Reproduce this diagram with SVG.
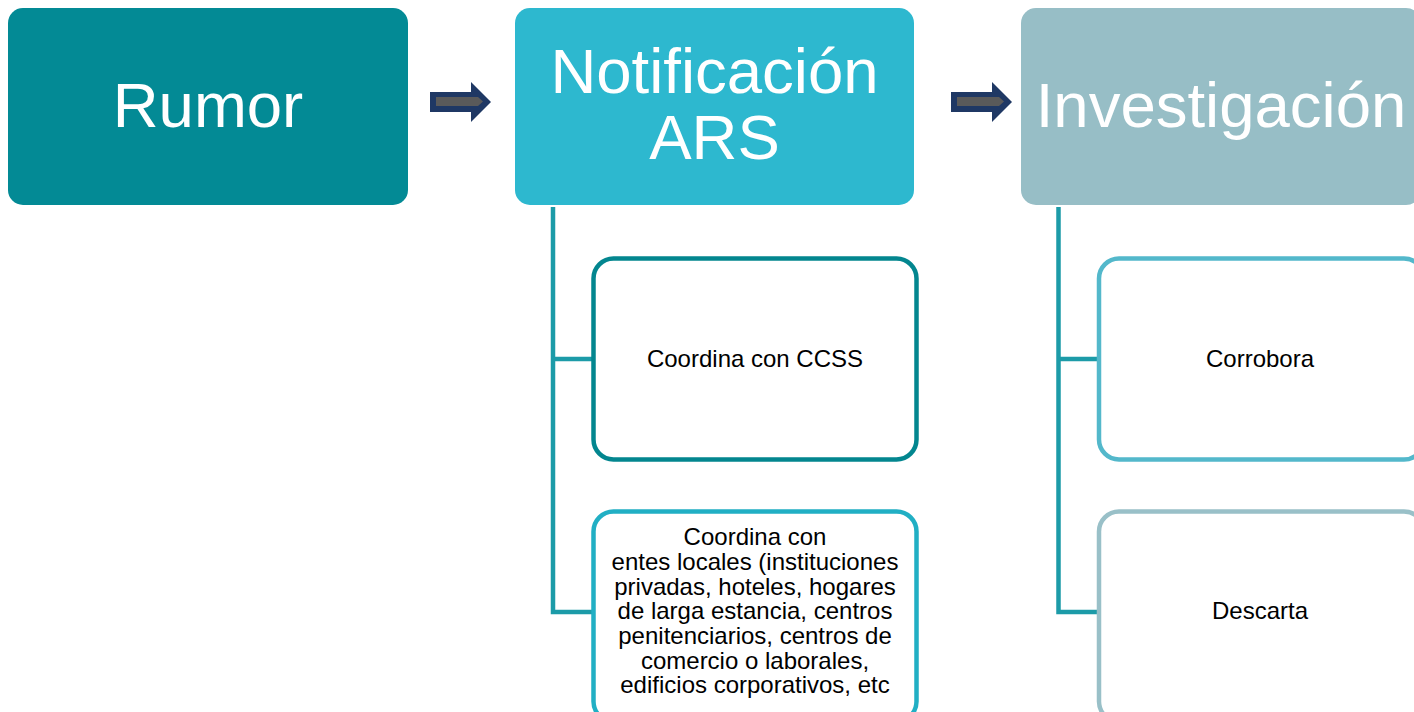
<svg xmlns="http://www.w3.org/2000/svg" width="1414" height="712" viewBox="0 0 1414 712">
<style>
.big{font-family:"Liberation Sans",Arial,sans-serif;font-size:63.5px;fill:#ffffff;text-anchor:middle}
.sm{font-family:"Liberation Sans",Arial,sans-serif;font-size:24px;fill:#000000;text-anchor:middle}
.sub{fill:#ffffff;stroke-width:4.5}
.conn{fill:none;stroke:#1C9BA8;stroke-width:4.5}
.arrow{fill:#1F3864}
.arrowin{fill:#5A5A5A}
</style>
<rect width="1414" height="712" fill="#ffffff"/>
<g id="connectors">
  <path class="conn" d="M553 207 V612 H594 M553 359 H594"/>
  <path class="conn" d="M1058.5 207 V612 H1099 M1058.5 359 H1099"/>
  <g id="arrow1">
    <polygon class="arrow" points="430,92 471,92 471,82 491,102 471,122 471,112 430,112"/>
    <polygon class="arrowin" points="436,97 478,97 483,101.5 478,106 436,106"/>
  </g>
  <g id="arrow2">
    <polygon class="arrow" points="951,92 992,92 992,82 1012,102 992,122 992,112 951,112"/>
    <polygon class="arrowin" points="957,97 999,97 1004,101.5 999,106 957,106"/>
  </g>
</g>
<g id="rumor">
  <rect x="8" y="8" width="400" height="197" rx="15" fill="#038A95"/>
  <text class="big" x="208" y="127">Rumor</text>
</g>
<g id="notificacion">
  <rect x="515" y="8" width="399" height="197" rx="15" fill="#2DB8CF"/>
  <text class="big" x="714.5" y="93">Notificación</text>
  <text class="big" x="714.5" y="159">ARS</text>
</g>
<g id="investigacion">
  <rect x="1021" y="8" width="400" height="197" rx="15" fill="#97BEC6"/>
  <text class="big" x="1221" y="127">Investigación</text>
</g>
<g id="ccss">
  <rect class="sub" x="593.5" y="258.5" width="323" height="201" rx="20" stroke="#03868F"/>
  <text class="sm" x="755" y="367">Coordina con CCSS</text>
</g>
<g id="entes">
  <rect class="sub" x="593.5" y="511.5" width="323" height="210" rx="20" stroke="#21AFC4"/>
  <text class="sm" x="755" y="545">Coordina con</text>
  <text class="sm" x="755" y="570">entes locales (instituciones</text>
  <text class="sm" x="755" y="594.5">privadas, hoteles, hogares</text>
  <text class="sm" x="755" y="619">de larga estancia, centros</text>
  <text class="sm" x="755" y="644">penitenciarios, centros de</text>
  <text class="sm" x="755" y="668.5">comercio o laborales,</text>
  <text class="sm" x="755" y="693">edificios corporativos, etc</text>
</g>
<g id="corrobora">
  <rect class="sub" x="1099" y="258.5" width="325" height="201" rx="20" stroke="#53B8CB"/>
  <text class="sm" x="1260" y="367">Corrobora</text>
</g>
<g id="descarta">
  <rect class="sub" x="1099" y="511.5" width="325" height="210" rx="20" stroke="#99C0C8"/>
  <text class="sm" x="1260" y="619">Descarta</text>
</g>
</svg>
